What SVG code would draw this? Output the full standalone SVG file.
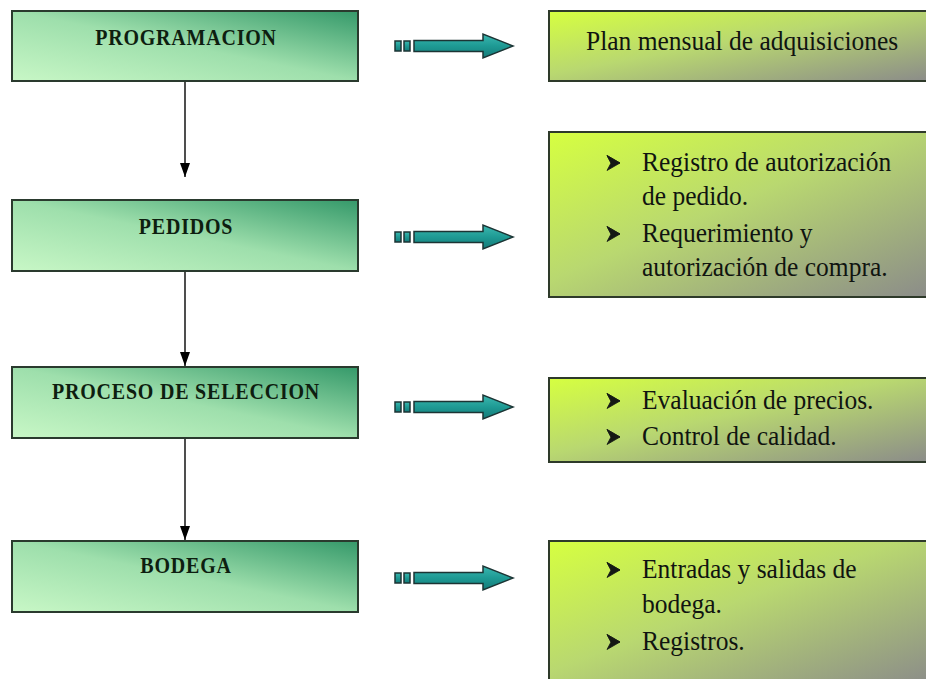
<svg xmlns="http://www.w3.org/2000/svg" width="926" height="679" viewBox="0 0 926 679">
<defs>
<linearGradient id="gL" x1="0" y1="1" x2="1" y2="0">
<stop offset="0" stop-color="#c8f7c6"/>
<stop offset="0.5" stop-color="#9edfac"/>
<stop offset="1" stop-color="#35996a"/>
</linearGradient>
<linearGradient id="gR" x1="0" y1="0" x2="1" y2="1">
<stop offset="0" stop-color="#d6ff40"/>
<stop offset="0.45" stop-color="#b9d870"/>
<stop offset="1" stop-color="#8a8a8a"/>
</linearGradient>
<linearGradient id="gT" x1="0" y1="0" x2="0" y2="1">
<stop offset="0" stop-color="#3cb8b0"/>
<stop offset="0.5" stop-color="#1e9a94"/>
<stop offset="1" stop-color="#147a78"/>
</linearGradient>
<marker id="ah" viewBox="0 0 10 14" refX="5" refY="14" markerWidth="10" markerHeight="14" markerUnits="userSpaceOnUse" orient="0">
<path d="M0,0 L10,0 L5,14 z" fill="#000"/>
</marker>
<g id="teal">
<rect x="0" y="-5" width="6" height="10" fill="url(#gT)" stroke="#1c3434" stroke-width="1.5"/>
<rect x="9" y="-5" width="6" height="10" fill="url(#gT)" stroke="#1c3434" stroke-width="1.5"/>
<path d="M19,-5.5 H88 V-12 L118,0 L88,12 V5.5 H19 Z" fill="url(#gT)" stroke="#1c3434" stroke-width="1.5" stroke-linejoin="miter"/>
</g>
<path id="bul" d="M0,-7.5 L13,0 L0,7.5 L4,0 Z M0,-7.5 L13,0 L4,0 Z" fill="#141814" stroke="#141814" stroke-width="0.8" stroke-linejoin="round"/>
</defs>
<style>
.lbox{fill:url(#gL);stroke:#2a3a2e;stroke-width:2}
.rbox{fill:url(#gR);stroke:#2e3a2a;stroke-width:2}
.lt{font-family:"Liberation Serif","Times New Roman",serif;font-weight:bold;font-size:20px;fill:#0e1e10;letter-spacing:0.8px;text-anchor:middle}
.rt{font-family:"Liberation Serif","Times New Roman",serif;font-size:25.5px;fill:#101410}
.conn{stroke:#222;stroke-width:1.6;fill:none}
</style>

<g id="connectors">
<line class="conn" x1="185" y1="81" x2="185" y2="177" marker-end="url(#ah)"/>
<line class="conn" x1="185" y1="271" x2="185" y2="366" marker-end="url(#ah)"/>
<line class="conn" x1="185" y1="438" x2="185" y2="540" marker-end="url(#ah)"/>
<use href="#teal" x="395" y="46"/>
<use href="#teal" x="395" y="237"/>
<use href="#teal" x="395" y="407"/>
<use href="#teal" x="395" y="578"/>
</g>

<g id="programacion">
<rect class="lbox" x="12" y="11" width="346" height="70"/>
<text class="lt" transform="translate(186,45) scale(1,1.2)">PROGRAMACION</text>
</g>
<g id="pedidos">
<rect class="lbox" x="12" y="200" width="346" height="71"/>
<text class="lt" transform="translate(186,234) scale(1,1.2)">PEDIDOS</text>
</g>
<g id="proceso">
<rect class="lbox" x="12" y="367" width="346" height="71"/>
<text class="lt" transform="translate(186,399) scale(1,1.2)">PROCESO DE SELECCION</text>
</g>
<g id="bodega">
<rect class="lbox" x="12" y="541" width="346" height="71"/>
<text class="lt" transform="translate(186,573) scale(1,1.2)">BODEGA</text>
</g>

<g id="plan">
<rect class="rbox" x="549" y="11" width="390" height="70"/>
<text class="rt" transform="translate(586,50) scale(1,1.1)">Plan mensual de adquisiciones</text>
</g>
<g id="docs-pedidos">
<rect class="rbox" x="549" y="132" width="390" height="165"/>
<use href="#bul" x="607" y="163"/>
<text class="rt" transform="translate(642,171) scale(1,1.1)">Registro de autorización</text>
<text class="rt" transform="translate(642,205) scale(1,1.1)">de pedido.</text>
<use href="#bul" x="607" y="234"/>
<text class="rt" transform="translate(642,242) scale(1,1.1)">Requerimiento y</text>
<text class="rt" transform="translate(642,276) scale(1,1.1)">autorización de compra.</text>
</g>
<g id="docs-seleccion">
<rect class="rbox" x="549" y="378" width="390" height="84"/>
<use href="#bul" x="607" y="401"/>
<text class="rt" transform="translate(642,409) scale(1,1.1)">Evaluación de precios.</text>
<use href="#bul" x="607" y="437"/>
<text class="rt" transform="translate(642,445) scale(1,1.1)">Control de calidad.</text>
</g>
<g id="docs-bodega">
<rect class="rbox" x="549" y="541" width="390" height="145"/>
<use href="#bul" x="607" y="570"/>
<text class="rt" transform="translate(642,578) scale(1,1.1)">Entradas y salidas de</text>
<text class="rt" transform="translate(642,613) scale(1,1.1)">bodega.</text>
<use href="#bul" x="607" y="642"/>
<text class="rt" transform="translate(642,650) scale(1,1.1)">Registros.</text>
</g>
</svg>
